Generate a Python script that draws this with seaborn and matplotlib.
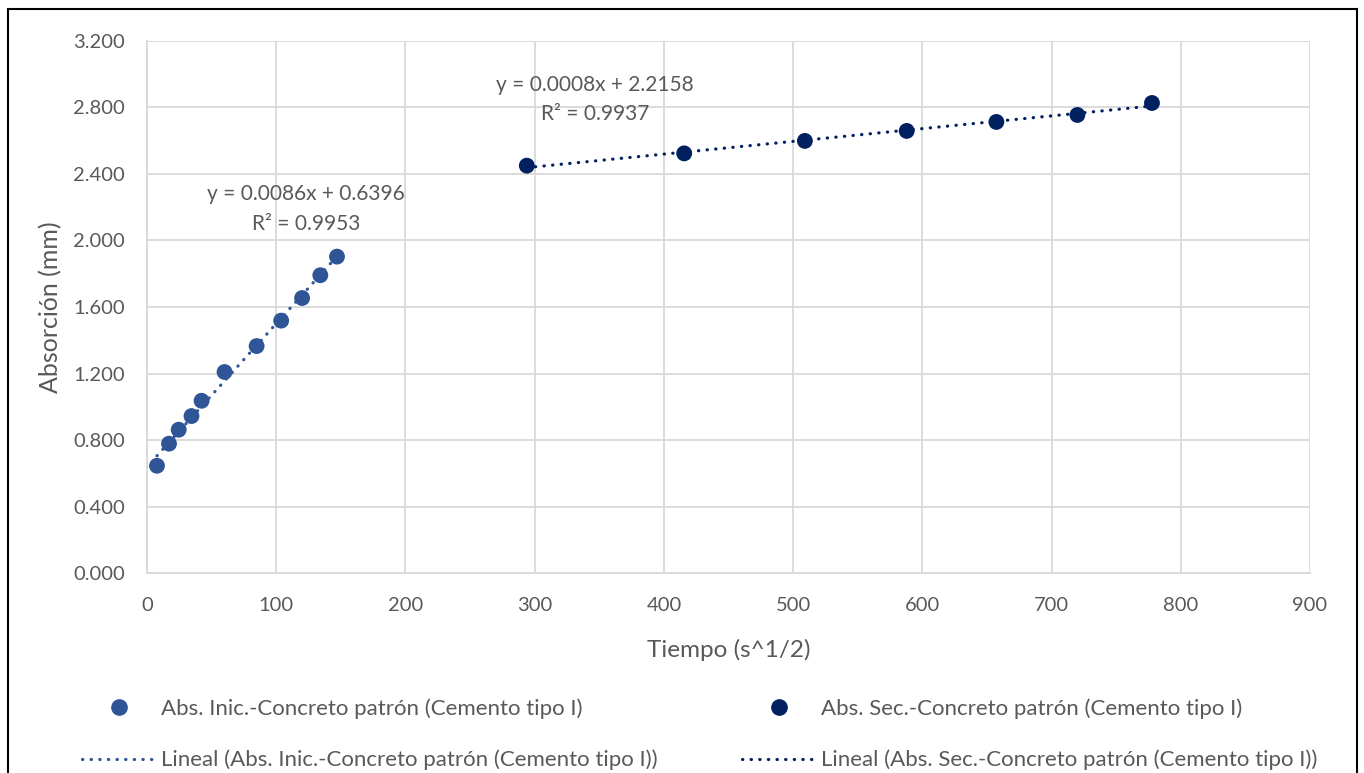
import numpy as np
import pandas as pd
import matplotlib.pyplot as plt
import seaborn as sns
from matplotlib.lines import Line2D
from matplotlib.patches import Rectangle
from matplotlib.ticker import FormatStrFormatter

# tiempo (s^1/2) y absorcion (mm)
x_inic = [7.7, 17.0, 24.5, 34.4, 42.2, 60.0, 84.8, 103.8, 120.0, 134.1, 147.0]
y_inic = [0.645, 0.778, 0.862, 0.944, 1.036, 1.209, 1.365, 1.518, 1.654, 1.791, 1.903]
x_sec = [293.9, 415.7, 509.1, 587.9, 657.3, 720.0, 777.7]
y_sec = [2.450, 2.524, 2.599, 2.659, 2.713, 2.755, 2.827]

lbl_inic = 'Abs. Inic.-Concreto patrón (Cemento tipo I)'
lbl_sec = 'Abs. Sec.-Concreto patrón (Cemento tipo I)'
c_inic = '#2F5597'
c_sec = '#002060'
gris = '#595959'
punteado = (0, (0.1, 2.6))

sns.set_style("whitegrid", {'grid.color': '#D9D9D9', 'axes.edgecolor': '#D9D9D9'})
plt.rcParams['font.family'] = ['Lato', 'DejaVu Sans']

df = pd.DataFrame({
    'x': x_inic + x_sec,
    'y': y_inic + y_sec,
    'serie': [lbl_inic] * len(x_inic) + [lbl_sec] * len(x_sec),
})

fig = plt.figure(figsize=(13.64, 7.73), dpi=100)
ax = fig.add_axes([0.1078, 0.2587, 0.8526, 0.6883])

sns.scatterplot(data=df, x='x', y='y', hue='serie', palette=[c_inic, c_sec],
                s=130, edgecolor='none', legend=False, ax=ax, zorder=3)

# lineas de tendencia
for xs, ys, c in [(x_inic, y_inic, c_inic), (x_sec, y_sec, c_sec)]:
    m, b = np.polyfit(xs, ys, 1)
    xx = np.array([min(xs), max(xs)])
    ax.plot(xx, m * xx + b, linestyle=punteado, color=c, lw=2.3,
            dash_capstyle='round', zorder=2)

fs_eq = 15
ax.text(123, 2.28, 'y = 0.0086x + 0.6396', ha='center', va='center', fontsize=fs_eq, color=gris)
ax.text(123, 2.10, 'R² = 0.9953', ha='center', va='center', fontsize=fs_eq, color=gris)
ax.text(346.5, 2.935, 'y = 0.0008x + 2.2158', ha='center', va='center', fontsize=fs_eq, color=gris)
ax.text(346.5, 2.762, 'R² = 0.9937', ha='center', va='center', fontsize=fs_eq, color=gris)

ax.set_xlim(0, 900)
ax.set_ylim(0, 3.2)
ax.set_xticks(np.arange(0, 901, 100))
ax.set_yticks(np.arange(0, 3.21, 0.4))
ax.yaxis.set_major_formatter(FormatStrFormatter('%.3f'))
ax.tick_params(labelsize=14.5, colors=gris, length=0)
ax.tick_params(axis='y', pad=16)
ax.tick_params(axis='x', pad=17)
ax.grid(True, color='#D9D9D9', lw=1.3)
for s in ['top', 'right']:
    ax.spines[s].set_visible(False)
for s in ['left', 'bottom']:
    ax.spines[s].set_color('#D9D9D9')
    ax.spines[s].set_linewidth(1.3)
ax.set_xlabel('Tiempo (s^1/2)', fontsize=17.5, color=gris, labelpad=18)
ax.set_ylabel('Absorción (mm)', fontsize=18, color=gris, labelpad=8)

handles = [
    Line2D([], [], marker='o', ls='none', color=c_inic, markersize=11),
    Line2D([], [], ls=punteado, color=c_inic, lw=2.3, dash_capstyle='round'),
    Line2D([], [], marker='o', ls='none', color=c_sec, markersize=11),
    Line2D([], [], ls=punteado, color=c_sec, lw=2.3, dash_capstyle='round'),
]
labels = [lbl_inic, 'Lineal (' + lbl_inic + ')', lbl_sec, 'Lineal (' + lbl_sec + ')']
leg = fig.legend(handles, labels, loc='center', bbox_to_anchor=(0.513, 0.050), ncol=2,
                 frameon=False, fontsize=16, handlelength=3.3, handletextpad=0.25,
                 columnspacing=3.8, labelspacing=1.4, labelcolor=gris)

fig.patches.append(Rectangle((8 / 1364, -0.05), 1349 / 1364, 1.05 - 9 / 773,
                             transform=fig.transFigure, fill=False, ec='black', lw=1.5))

fig.savefig('out.png', dpi=100)
